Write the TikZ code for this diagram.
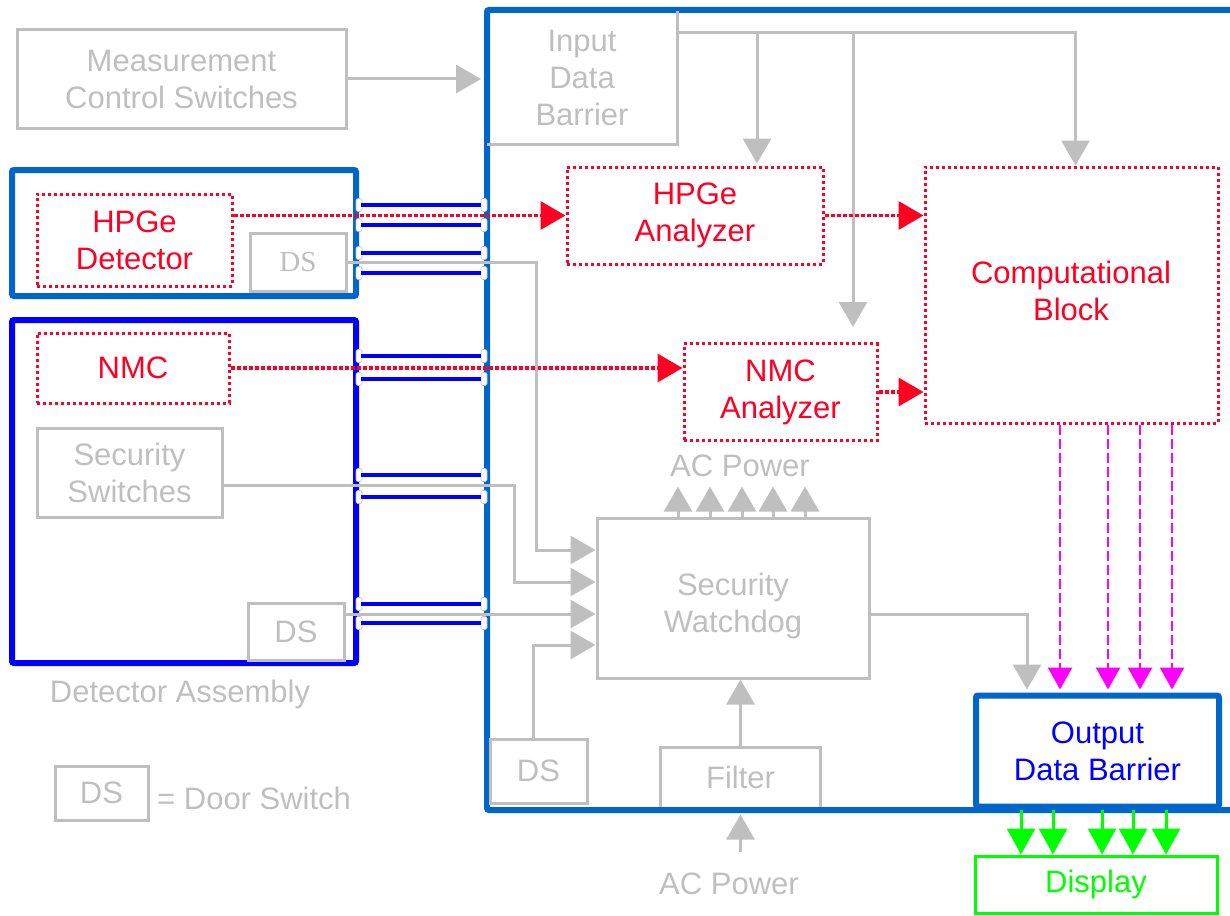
\documentclass[tikz,border=0pt]{standalone}
\usepackage{fontspec}
\setmainfont{Liberation Sans}
\newfontfamily\serifds{Liberation Serif}
\usetikzlibrary{arrows.meta}
\definecolor{offgray}{HTML}{BFBFBF}
\definecolor{frameblue}{HTML}{0066CC}
\definecolor{cableblue}{HTML}{0000FF}
\definecolor{alarmred}{HTML}{FF0022}
\definecolor{datapink}{HTML}{FF00FF}
\definecolor{dispgreen}{HTML}{00FF00}

\begin{document}
\begin{tikzpicture}[x=1pt,y=-1pt,%
  font=\fontsize{31}{37}\selectfont,%
  every node/.style={inner sep=0pt,align=center},%
  graybox/.style={draw=offgray,line width=3pt,text=offgray},%
  redbox/.style={draw=alarmred,line width=3pt,dash pattern=on 3pt off 3pt,text=alarmred},%
  bluebox/.style={draw=frameblue,line width=6pt,rounded corners=2pt},%
  assybox/.style={draw=cableblue,line width=6pt,rounded corners=2pt},%
  grayline/.style={draw=offgray,line width=3pt},%
  grayarrow/.style={grayline,-{Triangle[width=28pt,length=25pt]}},%
  redarrow/.style={draw=alarmred,line width=3.5pt,dash pattern=on 4pt off 2pt,%
  -{Triangle[width=28pt,length=25pt]}},%
  pinkarrow/.style={draw=datapink,line width=2.5pt,dash pattern=on 10pt off 4pt,%
  -{Triangle[width=24pt,length=22pt]}},%
  greenarrow/.style={draw=dispgreen,line width=3pt,-{Triangle[width=28pt,length=26pt]}},%
  cable/.style={draw=cableblue,line width=4pt},%
  plug/.style={draw=offgray,line width=0.6pt,fill=white,rounded corners=2pt,%
  minimum width=6pt,minimum height=13pt}]

  \useasboundingbox (0,0) rectangle (1230,915);

  \node [graybox,minimum width=160pt,minimum height=61pt] (filter) at (740.5,777.5) {Filter};
  \node [bluebox,minimum width=749pt,minimum height=800pt] (sys) at (861.5,410) {};
  \node [minimum width=190pt,minimum height=133pt,text=offgray] (idb) at (582,77.5) {Input\\Data\\Barrier};
  \draw [grayline] (idb.north east) -- (idb.south east) -- (idb.south west);

  \node [graybox,minimum width=329pt,minimum height=98pt] (meas) at (181.5,79) {Measurement\\Control Switches};
  \node [bluebox,minimum width=344pt,minimum height=126pt] (grp1) at (184,233) {};
  \node [redbox,minimum width=195pt,minimum height=92pt] (hpged) at (134.5,240) {HPGe\\Detector};
  \node [graybox,minimum width=96pt,minimum height=58pt,font=\serifds\fontsize{29}{34}\selectfont] (ds1) at (298,262) {DS};
  \node [assybox,minimum width=344pt,minimum height=343pt] (assy) at (184,491.5) {};
  \node [redbox,minimum width=192pt,minimum height=70pt] (nmc) at (133,368) {NMC};
  \node [graybox,minimum width=185pt,minimum height=89pt] (secsw) at (129.5,473) {Security\\Switches};
  \node [graybox,minimum width=96pt,minimum height=57pt] (ds2) at (296,631.5) {DS};
  \node [text=offgray] (assylabel) at (180,694) {Detector Assembly};

  \node [redbox,minimum width=256pt,minimum height=97pt] (hpgea) at (695,215.5) {HPGe\\Analyzer};
  \node [redbox,minimum width=193pt,minimum height=97pt] (nmca) at (780.5,392) {NMC\\Analyzer};
  \node [redbox,minimum width=293pt,minimum height=256pt] (comp) at (1071.5,295) {};
  \node [text=alarmred] (comptext) at (1071,291) {Computational\\Block};
  \node [graybox,minimum width=272pt,minimum height=160pt] (watch) at (733,598) {};
  \node [text=offgray] (watchtext) at (733,606) {Security\\Watchdog};
  \node [text=offgray] (acout) at (740,466) {AC Power};
  \node [graybox,minimum width=97pt,minimum height=64pt] (ds3) at (538.5,771) {DS};
  \node [text=offgray] (acin) at (729,884) {AC Power};
  \node [bluebox,minimum width=243pt,minimum height=111pt,text=cableblue] (odb) at (1097.5,751) {Output\\Data Barrier};
  \node [draw=dispgreen,line width=3pt,minimum width=242pt,minimum height=57pt,text=dispgreen] (disp) at (1096,884.5) {Display};

  \node [graybox,minimum width=93pt,minimum height=54pt] (dskey) at (101.5,793) {DS};
  \node [text=offgray,anchor=west] (dstext) at (157,798) {= Door Switch};

  % cables through the housing walls
  \foreach \y in {205,225,253,273,356,379,475,497,604,623} {
    \node [plug] at (grp1.east |- 0,\y) {};
    \node [plug] at (sys.west |- 0,\y) {};
    \draw [cable] ([xshift=2pt]grp1.east |- 0,\y) -- ([xshift=-3pt]sys.west |- 0,\y);
  }

  \draw [grayarrow,shorten >=3pt] (meas.east) -- (meas.east -| sys.west);
  \coordinate (busA) at (757,33);
  \coordinate (busB) at (853,33);
  \draw [grayarrow] (idb.east |- busA) -| ([xshift=4pt]comp.north);
  \draw [grayarrow,shorten >=2pt] (busA) -- (busA |- hpgea.north);
  \draw [grayarrow,shorten >=15pt] (busB) -- (busB |- nmca.north);

  \draw [redarrow] (hpged.east |- hpgea.west) -- (hpgea.west);
  \draw [redarrow] (hpgea.east) -- (hpgea.east -| comp.west);
  \draw [redarrow] (nmc.east) -- (nmc.east -| nmca.west);
  \draw [redarrow] (nmca.east) -- (nmca.east -| comp.west);

  \draw [grayarrow] (ds1.east) -| (536,550) -- (watch.west |- 0,550);
  \draw [grayarrow] (secsw.east |- 0,485) -| (514,582) -- (watch.west |- 0,582);
  \draw [grayarrow] (ds2.east |- 0,614) -- (watch.west |- 0,614);
  \draw [grayarrow] (ds3.north -| 533,0) |- (watch.west |- 0,645);
  \foreach \x in {678,710,742,773,805}
    \draw [grayarrow] (\x,0 |- watch.north) -- ++(0,-30);
  \draw [grayarrow] (filter.north) -- (filter.north |- watch.south);
  \draw [grayarrow,shorten >=5pt] (filter.south |- 0,852) -- (filter.south);
  \draw [grayarrow,shorten >=3pt] (watch.east |- 0,614) -| (odb.north -| 1027,0);

  \foreach \x in {1060,1108,1140,1172}
    \draw [pinkarrow,shorten >=3pt] (\x,0 |- comp.south) -- (\x,0 |- odb.north);
  \foreach \x in {1021,1053,1102,1133,1166}
    \draw [greenarrow] (\x,0 |- odb.south) -- (\x,0 |- disp.north);
\end{tikzpicture}
\end{document}
